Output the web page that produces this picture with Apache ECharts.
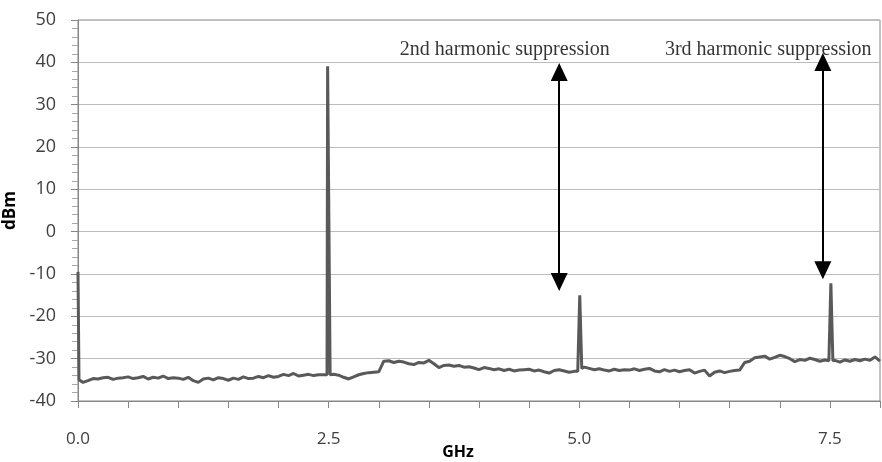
<!DOCTYPE html>
<html>
<head>
<meta charset="utf-8">
<script src="https://cdn.jsdelivr.net/npm/echarts@6/dist/echarts.min.js"></script>
<style>
  html, body { margin: 0; padding: 0; background: #fff; }
</style>
</head>
<body>
<div id="main" style="width: 882px;height:462px;"></div>
<script>
// noise floor, one value every 0.05 GHz from 0.0 to 8.0
const floorStep = 0.05;
const noiseFloor = [
  -35.0, -35.6, -35.2, -34.7, -34.8, -34.5, -34.4, -34.9, -34.6, -34.5,
  -34.3, -34.7, -34.5, -34.2, -34.8, -34.4, -34.6, -34.1, -34.7, -34.5,
  -34.6, -34.9, -34.4, -35.2, -35.6, -34.8, -34.6, -35.0, -34.5, -34.7,
  -35.1, -34.6, -34.9, -34.3, -34.7, -34.6, -34.2, -34.5, -34.0, -34.4,
  -34.2, -33.7, -34.0, -33.5, -34.1, -33.9, -33.7, -34.0, -33.8, -33.8,
  -33.8, -33.7, -33.9, -34.4, -34.8, -34.3, -33.8, -33.5, -33.3, -33.2,
  -33.1, -30.6, -30.5, -30.9, -30.6, -30.8, -31.2, -31.4, -30.9, -31.0,
  -30.4, -31.2, -32.1, -31.6, -31.5, -31.8, -31.6, -32.0, -31.9, -32.2,
  -32.6, -32.1, -32.3, -32.6, -32.4, -32.8, -32.5, -32.9, -32.7, -32.6,
  -32.5, -32.9, -32.7, -33.1, -33.4, -32.8, -32.6, -32.9, -33.2, -33.0,
  -33.0, -32.0, -32.3, -32.6, -32.4, -32.7, -32.9, -32.5, -32.8, -32.6,
  -32.7, -32.4, -32.8, -32.5, -32.3, -32.9, -33.1, -32.6, -33.0, -32.7,
  -33.1, -32.8, -32.6, -33.4, -33.0, -32.7, -34.1, -33.2, -32.9, -33.3,
  -33.0, -32.8, -32.7, -30.9, -30.6, -29.8, -29.6, -29.4, -30.1, -29.7,
  -29.2, -29.5, -30.0, -30.7, -30.2, -30.4, -29.9, -30.2, -30.6, -30.3,
  -30.4, -30.4, -30.8, -30.3, -30.6, -30.2, -30.5, -30.1, -30.4, -29.6,
  -30.6
];

// fundamental + harmonics (narrow spikes), GHz / dBm
const peakCenters = [0, 2.5, 5.005, 7.51];
const spikeFreqs  = [0,    0.01,  2.484, 2.49, 2.508, 2.515, 4.985, 5.005, 5.025, 7.49,  7.51,  7.53];
const spikeLevels = [-9.5, -35.0, -33.8, 39.1, 39.1,  -33.8, -33.0, -15.0, -32.3, -30.5, -12.2, -30.5];

// double arrows for the suppression annotations (centres of the arrow heads)
const arrowFreqs   = [4.80, 7.43];
const arrowTops    = [37.7, 40.1];
const arrowBottoms = [-11.9, -9.1];

// annotation texts
const noteFreqs  = [3.21, 5.855];
const noteLevels = [42.9, 42.9];
const noteTexts  = ['2nd harmonic suppression', '3rd harmonic suppression'];

const xTicks = [0, 2.5, 5.0, 7.5];

let points = [];
for (let i = 0; i < noiseFloor.length; i++) {
  const f = +(i * floorStep).toFixed(3);
  let nearPeak = false;
  for (let j = 0; j < peakCenters.length; j++) {
    if (Math.abs(f - peakCenters[j]) < 0.03) nearPeak = true;
  }
  if (!nearPeak) points.push([f, noiseFloor[i]]);
}
for (let i = 0; i < spikeFreqs.length; i++) {
  points.push([spikeFreqs[i], spikeLevels[i]]);
}
points.sort(function (a, b) { return a[0] - b[0]; });

const arrows = [];
for (let i = 0; i < arrowFreqs.length; i++) {
  arrows.push([{coord: [arrowFreqs[i], arrowTops[i]]}, {coord: [arrowFreqs[i], arrowBottoms[i]]}]);
}
const notes = [];
for (let i = 0; i < noteFreqs.length; i++) {
  notes.push({value: [noteFreqs[i], noteLevels[i]], name: noteTexts[i]});
}

const myChart = echarts.init(document.getElementById('main'));
const axisFont = 'Open Sans, Noto Sans, sans-serif';
const option = {
  animation: false,
  grid: {
    left: 78, right: 2, top: 20, bottom: 61,
    outerBoundsMode: 'none',
    show: true,
    borderColor: '#868686',
    borderWidth: 1
  },
  xAxis: {
    type: 'value',
    min: 0,
    max: 8,
    interval: 0.5,
    name: 'GHz',
    nameLocation: 'middle',
    nameGap: 43,
    nameMoveOverlap: false,
    nameTextStyle: {fontFamily: axisFont, fontWeight: 'bold', fontSize: 16, color: '#000', padding: [0, 42, 0, 0]},
    axisLine: {show: true, onZero: false, lineStyle: {color: '#868686', width: 1}},
    axisTick: {show: true, length: 7, lineStyle: {color: '#868686'}},
    splitLine: {show: false},
    axisLabel: {
      margin: 30,
      fontFamily: axisFont,
      fontSize: 17,
      color: '#404040',
      formatter: function (v) {
        for (let i = 0; i < xTicks.length; i++) {
          if (Math.abs(v - xTicks[i]) < 1e-6) return v.toFixed(1);
        }
        return '';
      }
    }
  },
  yAxis: {
    type: 'value',
    min: -40,
    max: 50,
    interval: 10,
    name: 'dBm',
    nameLocation: 'middle',
    nameRotate: 90,
    nameGap: 52,
    nameTextStyle: {fontFamily: axisFont, fontWeight: 'bold', fontSize: 17, color: '#000'},
    axisLine: {show: true, lineStyle: {color: '#868686', width: 1}},
    axisTick: {show: true, length: 7, lineStyle: {color: '#868686'}},
    minorTick: {show: true, splitNumber: 5, length: 6, lineStyle: {color: '#a6a6a6'}},
    splitLine: {show: true, lineStyle: {color: '#bcbcbc', width: 1}},
    axisLabel: {margin: 22, fontFamily: axisFont, fontSize: 18, color: '#404040'}
  },
  series: [
    {
      name: 'spectrum',
      type: 'line',
      data: points,
      showSymbol: false,
      symbol: 'none',
      lineStyle: {color: '#595959', width: 3},
      markLine: {
        silent: true,
        symbol: ['triangle', 'triangle'],
        symbolSize: [17, 18],
        label: {show: false},
        lineStyle: {color: '#000', width: 2, type: 'solid'},
        data: arrows
      }
    },
    {
      name: 'notes',
      type: 'scatter',
      symbolSize: 0,
      data: notes,
      silent: true,
      label: {
        show: true,
        position: 'right',
        distance: 0,
        formatter: function (p) { return p.name; },
        fontFamily: 'Liberation Serif, Times New Roman, serif',
        fontSize: 20,
        color: '#000'
      }
    }
  ]
};
myChart.setOption(option);
</script>
</body>
</html>
